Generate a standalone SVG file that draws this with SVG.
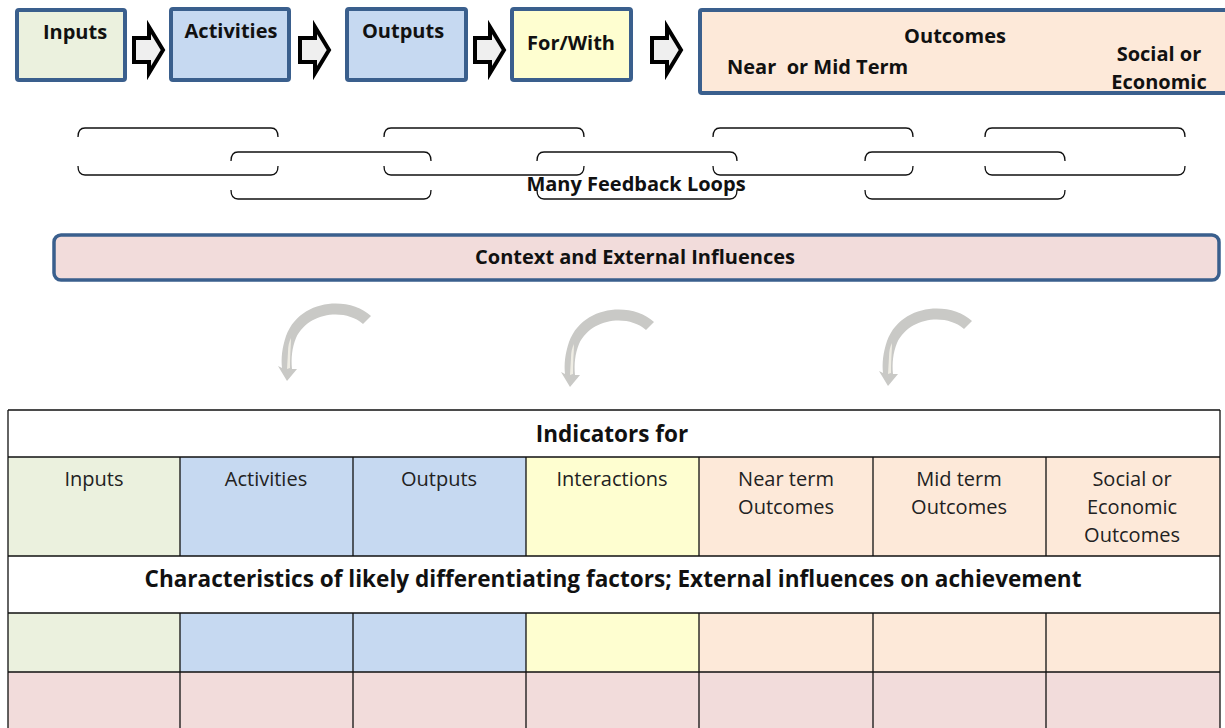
<svg xmlns="http://www.w3.org/2000/svg" width="1225" height="728" viewBox="0 0 1225 728">
  <style>
    .node { stroke: #3a5f8d; stroke-width: 4; }
    .green { fill: #ebf1de; }
    .blue { fill: #c6d9f1; }
    .yellow { fill: #fefed0; }
    .peach { fill: #fde9d9; }
    .pink { fill: #f2dcdb; }
    .white { fill: #ffffff; }
    .lbl { font-family: "Open Sans", "Liberation Sans", sans-serif; font-weight: bold; font-size: 20px; fill: #111; }
    .cell { font-family: "Open Sans", "Liberation Sans", sans-serif; font-size: 20px; fill: #222; text-anchor: middle; }
    .head { font-family: "Open Sans", "Liberation Sans", sans-serif; font-weight: bold; font-size: 22.5px; fill: #111; text-anchor: middle; }
    .mid { text-anchor: middle; }
    .pre { white-space: pre; }
    .grid { stroke: #111; stroke-width: 1.3; fill: none; }
    .loop { stroke: #111; stroke-width: 1.3; fill: none; }
    .blk { fill: #efefef; stroke: #000; stroke-width: 4; stroke-linejoin: miter; }
    .curve { fill: #c9c9c6; }
    .curve-hi { fill: #efede4; }
  </style>
  <defs>
    <!-- block arrow between stages -->
    <path id="blockArrow" d="M0 11 H15 V0 L29 23 L15 46 V35 H0 Z"/>
    <!-- curved grey arrow -->
    <g id="curveArrow">
      <path class="curve" d="M93 14 C72 -6 22 -4 8 34 C4 46 3 56 4 66 L0 64 L9 79 L19 67 L14 67 C13 56 14 46 18 36 C30 10 67 6 85 22 Z"/>
      <path class="curve-hi" d="M10 50 C10 44 11 40 13 36 C13 44 12 52 12 66 L9 67 Z"/>
    </g>
    <!-- feedback bracket pair: upper arm and lower arm -->
    <g id="loop">
      <path d="M0 9 Q0 0 7 0 H193 Q200 0 200 9"/>
      <path d="M0 38 Q0 47 7 47 H193 Q200 47 200 38"/>
    </g>
  </defs>

  <rect width="1225" height="728" fill="#ffffff"/>

  <!-- stage boxes -->
  <g id="node-inputs">
    <rect class="node green" x="17" y="10" width="108" height="70" rx="2"/>
    <text class="lbl mid" x="75" y="39">Inputs</text>
  </g>
  <g id="node-activities">
    <rect class="node blue" x="171" y="9" width="118" height="71" rx="2"/>
    <text class="lbl mid" x="231" y="38">Activities</text>
  </g>
  <g id="node-outputs">
    <rect class="node blue" x="347" y="9" width="119" height="71" rx="2"/>
    <text class="lbl mid" x="403" y="38">Outputs</text>
  </g>
  <g id="node-forwith">
    <rect class="node yellow" x="512" y="9" width="119" height="71" rx="2"/>
    <text class="lbl mid" x="571" y="50">For/With</text>
  </g>
  <g id="node-outcomes">
    <rect class="node peach" x="700" y="10" width="545" height="83" rx="2"/>
    <text class="lbl mid" x="955" y="43">Outcomes</text>
    <text class="lbl pre" x="727" y="74">Near  or Mid Term</text>
    <text class="lbl mid" x="1159" y="61">Social or</text>
    <text class="lbl mid" x="1159" y="89">Economic</text>
  </g>

  <!-- connectors -->
  <g id="connectors">
    <use href="#blockArrow" class="blk" x="134" y="27"/>
    <use href="#blockArrow" class="blk" x="300" y="27"/>
    <use href="#blockArrow" class="blk" x="475" y="27"/>
    <use href="#blockArrow" class="blk" x="652" y="27"/>

    <g class="loop">
      <use href="#loop" x="78" y="128"/>
      <use href="#loop" x="231" y="152"/>
      <use href="#loop" x="384" y="128"/>
      <use href="#loop" x="537" y="152"/>
      <use href="#loop" x="713" y="128"/>
      <use href="#loop" x="865" y="152"/>
      <use href="#loop" x="985" y="128"/>
    </g>

    <use href="#curveArrow" x="278" y="302"/>
    <use href="#curveArrow" x="561" y="308"/>
    <use href="#curveArrow" x="879" y="307"/>
  </g>

  <g id="label-feedback">
    <text class="lbl mid" x="636" y="191">Many Feedback Loops</text>
  </g>

  <g id="node-context">
    <rect x="54" y="235" width="1165" height="45" rx="7" fill="#f2dcdb" stroke="#3a5f8d" stroke-width="3.5"/>
    <text class="lbl mid" x="635" y="264">Context and External Influences</text>
  </g>

  <!-- indicator table -->
  <g id="table">
    <rect class="white" x="8" y="410" width="1212" height="47"/>
    <rect class="green" x="8" y="457" width="172" height="99"/>
    <rect class="blue" x="180" y="457" width="346" height="99"/>
    <rect class="yellow" x="526" y="457" width="173" height="99"/>
    <rect class="peach" x="699" y="457" width="521" height="99"/>
    <rect class="white" x="8" y="556" width="1212" height="57"/>
    <rect class="green" x="8" y="613" width="172" height="59"/>
    <rect class="blue" x="180" y="613" width="346" height="59"/>
    <rect class="yellow" x="526" y="613" width="173" height="59"/>
    <rect class="peach" x="699" y="613" width="521" height="59"/>
    <rect class="pink" x="8" y="672" width="1212" height="60"/>

    <path class="grid" d="M8 410 H1220 M8 457 H1220 M8 556 H1220 M8 613 H1220 M8 672 H1220
      M8 410 V728 M1220 410 V728
      M180 457 V556 M353 457 V556 M526 457 V556 M699 457 V556 M873 457 V556 M1046 457 V556
      M180 613 V728 M353 613 V728 M526 613 V728 M699 613 V728 M873 613 V728 M1046 613 V728"/>

    <text class="head" x="612" y="442">Indicators for</text>
    <text class="cell" x="94" y="486">Inputs</text>
    <text class="cell" x="266" y="486">Activities</text>
    <text class="cell" x="439" y="486">Outputs</text>
    <text class="cell" x="612" y="486">Interactions</text>
    <text class="cell" x="786" y="486">Near term</text>
    <text class="cell" x="786" y="514">Outcomes</text>
    <text class="cell" x="959" y="486">Mid term</text>
    <text class="cell" x="959" y="514">Outcomes</text>
    <text class="cell" x="1132" y="486">Social or</text>
    <text class="cell" x="1132" y="514">Economic</text>
    <text class="cell" x="1132" y="542">Outcomes</text>
    <text class="head" x="613" y="587" textLength="937" lengthAdjust="spacingAndGlyphs">Characteristics of likely differentiating factors; External influences on achievement</text>
  </g>
</svg>
